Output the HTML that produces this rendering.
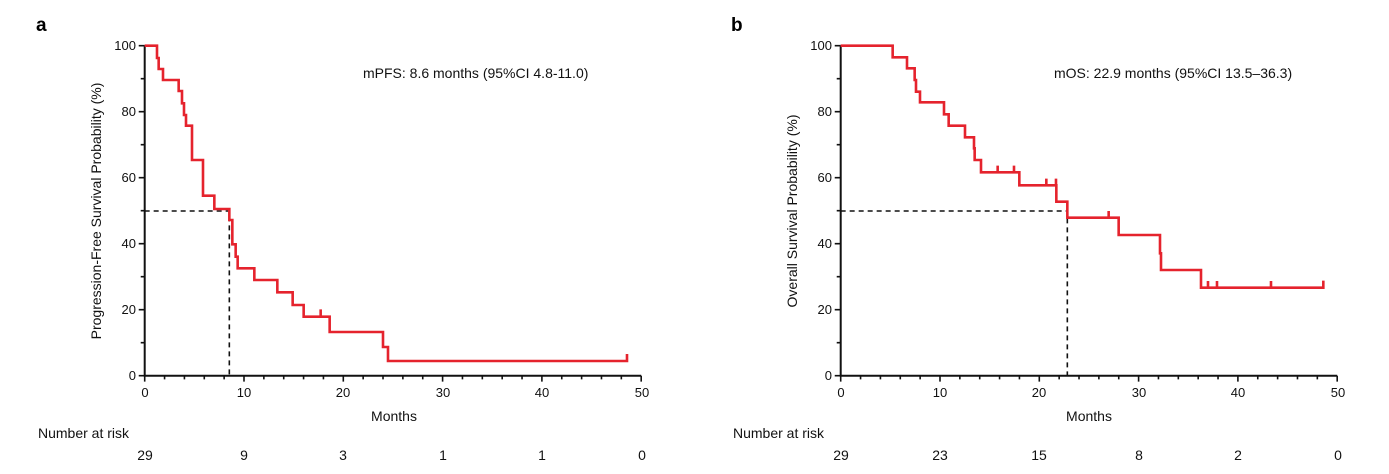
<!DOCTYPE html>
<html><head><meta charset="utf-8"><style>
body{margin:0;background:#fff;}
svg{display:block;font-family:"Liberation Sans",sans-serif;}
</style></head><body>
<svg width="1389" height="474" viewBox="0 0 1389 474" xmlns="http://www.w3.org/2000/svg">
<rect width="1389" height="474" fill="#fff"/>
<!-- LEFT PANEL -->
<text x="36" y="31" font-size="19" font-weight="bold">a</text>
<g transform="translate(144.7,375.7) scale(9.93,-3.3)" stroke="#111" fill="none">
<path vector-effect="non-scaling-stroke" stroke-width="2" d="M0,100 V0 H50"/>
<path vector-effect="non-scaling-stroke" stroke-width="1.6" d="M0,0v-1.8M2,0v-1.1M4,0v-1.1M6,0v-1.1M8,0v-1.1M10,0v-1.8M12,0v-1.1M14,0v-1.1M16,0v-1.1M18,0v-1.1M20,0v-1.8M22,0v-1.1M24,0v-1.1M26,0v-1.1M28,0v-1.1M30,0v-1.8M32,0v-1.1M34,0v-1.1M36,0v-1.1M38,0v-1.1M40,0v-1.8M42,0v-1.1M44,0v-1.1M46,0v-1.1M48,0v-1.1M50,0v-1.8
M0,0h-0.6M0,10h-0.4M0,20h-0.6M0,30h-0.4M0,40h-0.6M0,50h-0.4M0,60h-0.6M0,70h-0.4M0,80h-0.6M0,90h-0.4M0,100h-0.6"/>
</g>
<g transform="translate(130,30) scale(0.33333)" fill="none">
<path vector-effect="non-scaling-stroke" stroke="#111" stroke-width="1.6" stroke-dasharray="5,4" d="M44,543 H298 V1037"/>
<path vector-effect="non-scaling-stroke" stroke="#e5232d" stroke-width="2.6" d="M44,47 H81 V84 H86 V117 H99 V150 H146 V183 H156 V220 H162 V255 H168 V287 H186 V390 H219 V497 H253 V537 H298 V570 H307 V643 H317 V680 H323 V715 H373 V750 H442 V787 H488 V825 H521 V860 H599 V906 H759 V951 H774 V993 H1491 V972 M572,860 V838"/>
</g>
<g font-size="13" fill="#111" text-anchor="end">
<text x="136" y="50">100</text><text x="136" y="116">80</text><text x="136" y="182">60</text><text x="136" y="248">40</text><text x="136" y="314">20</text><text x="136" y="380">0</text>
</g>
<g font-size="13" fill="#111" text-anchor="middle">
<text x="145" y="397">0</text><text x="244" y="397">10</text><text x="343" y="397">20</text><text x="443" y="397">30</text><text x="542" y="397">40</text><text x="642" y="397">50</text>
<text x="394" y="421" font-size="14">Months</text>
<text x="145" y="460" font-size="14">29</text><text x="244" y="460" font-size="14">9</text><text x="343" y="460" font-size="14">3</text><text x="443" y="460" font-size="14">1</text><text x="542" y="460" font-size="14">1</text><text x="642" y="460" font-size="14">0</text>
<text transform="translate(101,211) rotate(-90)" font-size="14">Progression-Free Survival Probability (%)</text>
</g>
<text x="38" y="438" font-size="14" fill="#111">Number at risk</text>
<text x="363" y="78" font-size="14" fill="#111">mPFS: 8.6 months (95%CI 4.8-11.0)</text>

<!-- RIGHT PANEL -->
<text x="731" y="31" font-size="19" font-weight="bold">b</text>
<g transform="translate(840.7,375.7) scale(9.93,-3.3)" stroke="#111" fill="none">
<path vector-effect="non-scaling-stroke" stroke-width="2" d="M0,100 V0 H50"/>
<path vector-effect="non-scaling-stroke" stroke-width="1.6" d="M0,0v-1.8M2,0v-1.1M4,0v-1.1M6,0v-1.1M8,0v-1.1M10,0v-1.8M12,0v-1.1M14,0v-1.1M16,0v-1.1M18,0v-1.1M20,0v-1.8M22,0v-1.1M24,0v-1.1M26,0v-1.1M28,0v-1.1M30,0v-1.8M32,0v-1.1M34,0v-1.1M36,0v-1.1M38,0v-1.1M40,0v-1.8M42,0v-1.1M44,0v-1.1M46,0v-1.1M48,0v-1.1M50,0v-1.8
M0,0h-0.6M0,10h-0.4M0,20h-0.6M0,30h-0.4M0,40h-0.6M0,50h-0.4M0,60h-0.6M0,70h-0.4M0,80h-0.6M0,90h-0.4M0,100h-0.6"/>
</g>
<g transform="translate(830,30) scale(0.33333)" fill="none">
<path vector-effect="non-scaling-stroke" stroke="#111" stroke-width="1.6" stroke-dasharray="5,4" d="M32,543 H712 V1037"/>
<path vector-effect="non-scaling-stroke" stroke="#e5232d" stroke-width="2.6" d="M32,47 H188 V82 H231 V115 H254 V150 H258 V185 H270 V217 H342 V253 H356 V287 H405 V322 H432 V355 H434 V390 H453 V427 H568 V466 H679 V515 H712 V563 H866 V615 H990 V670 H993 V720 H1113 V773 H1480 V752
M503,427V407 M552,427V407 M649,466V446 M678,466V446 M836,563V543 M1134,773V753 M1161,773V753 M1323,773V753"/>
</g>
<g font-size="13" fill="#111" text-anchor="end">
<text x="832" y="50">100</text><text x="832" y="116">80</text><text x="832" y="182">60</text><text x="832" y="248">40</text><text x="832" y="314">20</text><text x="832" y="380">0</text>
</g>
<g font-size="13" fill="#111" text-anchor="middle">
<text x="841" y="397">0</text><text x="940" y="397">10</text><text x="1039" y="397">20</text><text x="1139" y="397">30</text><text x="1238" y="397">40</text><text x="1338" y="397">50</text>
<text x="1089" y="421" font-size="14">Months</text>
<text x="841" y="460" font-size="14">29</text><text x="940" y="460" font-size="14">23</text><text x="1039" y="460" font-size="14">15</text><text x="1139" y="460" font-size="14">8</text><text x="1238" y="460" font-size="14">2</text><text x="1338" y="460" font-size="14">0</text>
<text transform="translate(797,211) rotate(-90)" font-size="14">Overall Survival Probability (%)</text>
</g>
<text x="733" y="438" font-size="14" fill="#111">Number at risk</text>
<text x="1054" y="78" font-size="14" fill="#111">mOS: 22.9 months (95%CI 13.5–36.3)</text>
</svg>
</body></html>
